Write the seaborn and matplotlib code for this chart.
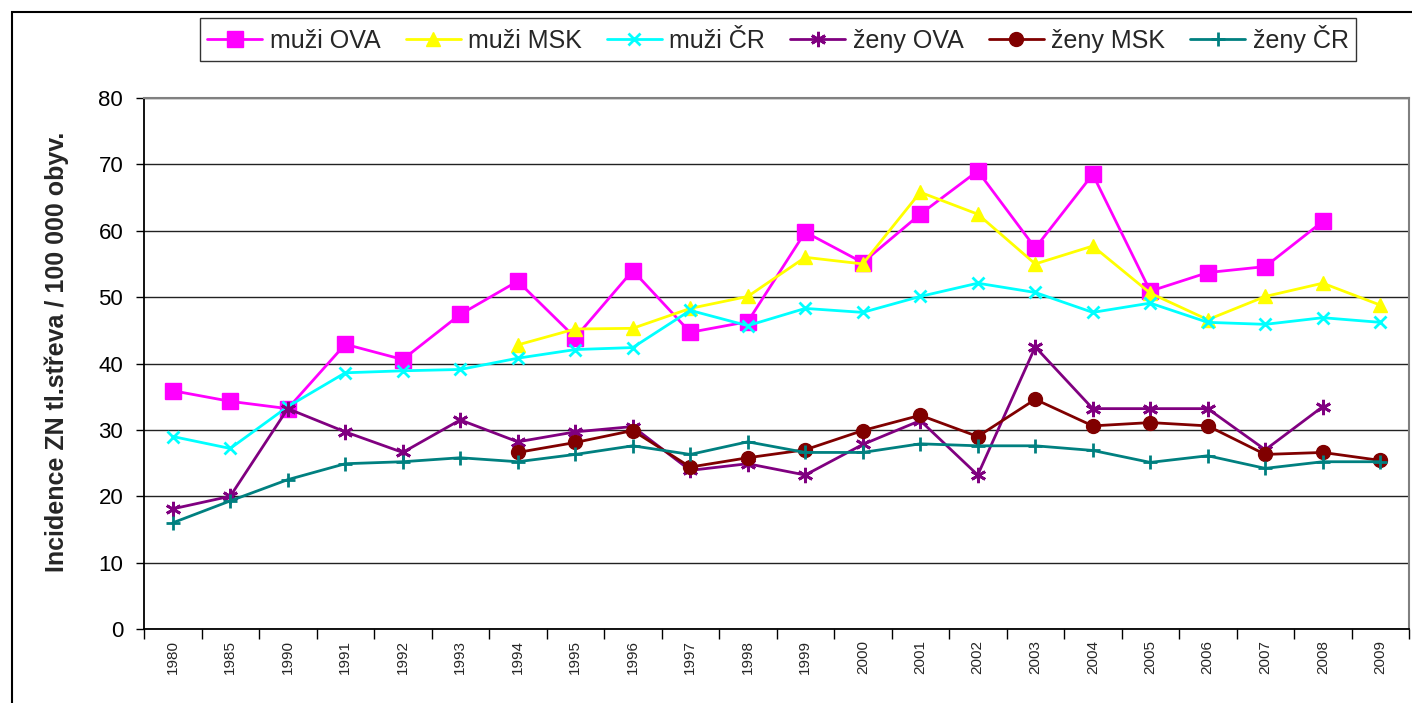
import matplotlib
matplotlib.use("Agg")
import matplotlib.pyplot as plt
import matplotlib.patches as patches
from matplotlib.transforms import Bbox
import numpy as np
import pandas as pd
import seaborn as sns

# Roky (kategorie osy x)
roky = ["1980", "1985", "1990", "1991", "1992", "1993", "1994", "1995", "1996", "1997", "1998",
        "1999", "2000", "2001", "2002", "2003", "2004", "2005", "2006", "2007", "2008", "2009"]

nan = np.nan
muzi_ova = [35.9, 34.3, 33.2, 42.9, 40.6, 47.4, 52.4, 43.9, 54.0, 44.7, 46.3,
            59.8, 55.2, 62.5, 69.0, 57.4, 68.5, 50.9, 53.7, 54.6, 61.4, nan]
muzi_msk = [nan, nan, nan, nan, nan, nan, 42.8, 45.2, 45.3, 48.3, 50.1,
            56.0, 55.0, 65.8, 62.5, 55.0, 57.7, 50.6, 46.6, 50.1, 52.1, 48.8]
muzi_cr = [29.0, 27.2, 33.5, 38.6, 38.9, 39.1, 40.8, 42.1, 42.4, 48.0, 45.7,
           48.3, 47.7, 50.1, 52.1, 50.7, 47.7, 49.1, 46.2, 45.9, 46.9, 46.2]
zeny_ova = [18.1, 20.0, 33.2, 29.7, 26.6, 31.5, 28.2, 29.7, 30.5, 23.9, 24.9,
            23.2, 27.8, 31.4, 23.2, 42.5, 33.2, 33.2, 33.2, 27.0, 33.5, nan]
zeny_msk = [nan, nan, nan, nan, nan, nan, 26.6, 28.1, 29.9, 24.4, 25.8,
            27.0, 29.9, 32.2, 29.0, 34.6, 30.6, 31.1, 30.6, 26.3, 26.6, 25.4]
zeny_cr = [16.0, 19.3, 22.5, 24.9, 25.2, 25.8, 25.2, 26.3, 27.6, 26.3, 28.2,
           26.6, 26.6, 27.9, 27.6, 27.6, 26.9, 25.1, 26.1, 24.2, 25.2, 25.2]

serie = [
    ("muži OVA", muzi_ova, "#FF00FF", "s", 11),
    ("muži MSK", muzi_msk, "#FFFF00", "^", 10),
    ("muži ČR", muzi_cr, "#00FFFF", "x", 9),
    ("ženy OVA", zeny_ova, "#800080", (6, 2, 0), 11),
    ("ženy MSK", zeny_msk, "#800000", "o", 10),
    ("ženy ČR", zeny_cr, "#008080", "+", 10),
]

sns.set_theme(style="white")
plt.rcParams["font.family"] = ["Liberation Sans", "DejaVu Sans"]

fig = plt.figure(figsize=(14.12, 7.03), dpi=100)
ax = fig.add_axes([144 / 1412, 1 - 629 / 703, (1409 - 144) / 1412, (629 - 98) / 703])

pozice = np.arange(len(roky))
for nazev, hodnoty, barva, znacka, vel in serie:
    df = pd.DataFrame({"x": pozice, "y": hodnoty}).dropna()
    mew = 2 if znacka in ("x", "+", (6, 2, 0)) else 1
    sns.lineplot(data=df, x="x", y="y", ax=ax, color=barva, marker=znacka,
                 markersize=vel, markeredgecolor=barva, markeredgewidth=mew,
                 linewidth=2, label=nazev)

ax.set_xlim(-0.5, len(roky) - 0.5)
ax.set_ylim(0, 80)
ax.set_yticks(range(0, 81, 10))
ax.tick_params(axis="y", labelsize=16, direction="out", length=6, width=1,
               colors="black", left=True, pad=9)
ax.set_xticks(pozice)
ax.set_xticklabels(roky, rotation=90, fontsize=11)
ax.set_xticks(np.arange(-0.5, len(roky), 1), minor=True)
ax.tick_params(axis="x", which="major", length=0, pad=8)
ax.tick_params(axis="x", which="minor", direction="out", length=7, width=1,
               colors="black", bottom=True)

ax.yaxis.grid(True, color="#222222", linewidth=1)
ax.xaxis.grid(False)
ax.set_axisbelow(True)

ax.spines["left"].set_color("black")
ax.spines["bottom"].set_color("black")
ax.spines["left"].set_linewidth(1.3)
ax.spines["bottom"].set_linewidth(1.3)
ax.spines["top"].set_color("#808080")
ax.spines["right"].set_color("#808080")
ax.spines["top"].set_linewidth(1.5)
ax.spines["right"].set_linewidth(1.5)

ax.set_xlabel("")
ax.set_ylabel("")

# popisek osy y - v originale je nahore oriznuty
popisek = fig.text(57 / 1412, 1 - 572 / 703, "Incidence ZN tl.střeva / 100 000 obyv.",
                   rotation=90, ha="center", va="bottom", fontsize=18, fontweight="bold")
popisek.set_clip_box(Bbox.from_extents(0, 0, 1412, 703 - 104))
popisek.set_clip_on(True)

leg = ax.legend(loc="center", bbox_to_anchor=(778 / 1412, 1 - 39 / 703),
                bbox_transform=fig.transFigure, ncol=6, fontsize=18, frameon=True,
                fancybox=False, edgecolor="black", handlelength=2.2, handletextpad=0.3,
                columnspacing=1.0, borderpad=0.3)
leg.get_frame().set_linewidth(1)

# ramecek grafu
fig.patches.append(patches.Rectangle((12 / 1412, -0.05), 1.2, 1 - 12 / 703 + 0.05,
                                     transform=fig.transFigure, fill=False,
                                     edgecolor="black", linewidth=1.5))

fig.savefig("out.png", dpi=100)
